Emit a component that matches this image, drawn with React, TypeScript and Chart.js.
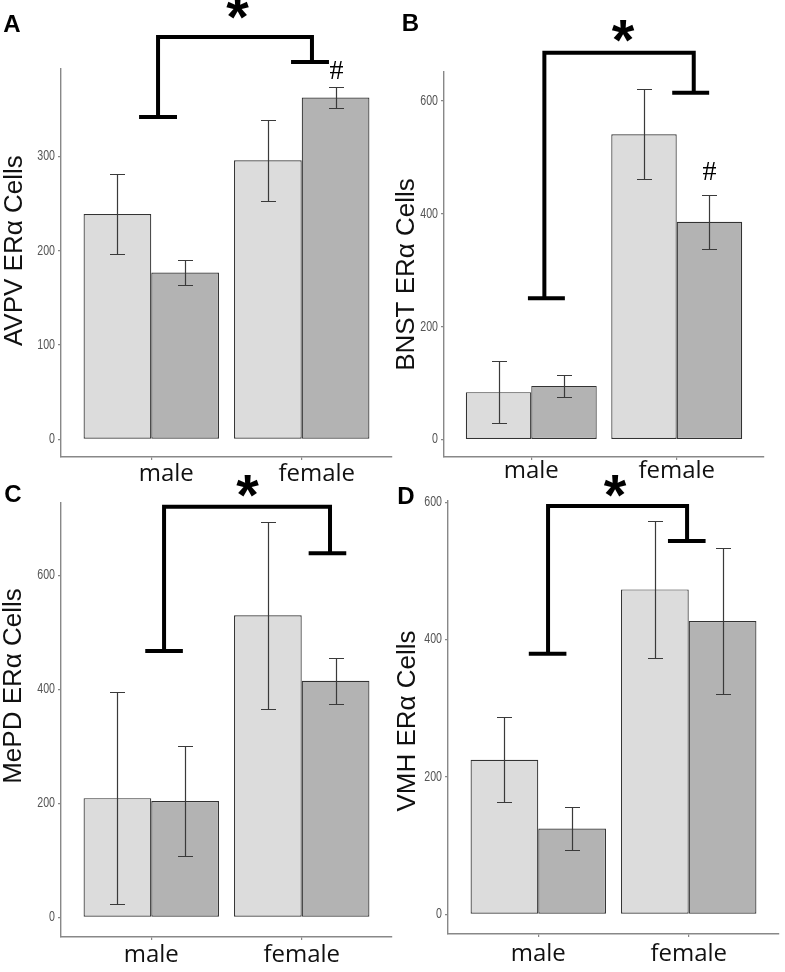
import React, { useEffect, useRef } from 'react';
import { Chart, registerables } from 'chart.js';

Chart.register(...registerables);

const W = 785;
const H = 972;
const YW = 10; // fixed y-axis box width
const XH = 30; // fixed x-axis box height

const categories = ['male', 'female'];

// Panel A – AVPV
const avpvLight = [239, 296];
const avpvLightSE = [42, 43];
const avpvDark = [177, 362.5];
const avpvDarkSE = [13, 11.5];
const avpvTicks = [0, 100, 200, 300];

// Panel B – BNST
const bnstLight = [84, 541];
const bnstLightSE = [55.5, 79.5];
const bnstDark = [95, 386];
const bnstDarkSE = [19.5, 48];
const bnstTicks = [0, 200, 400, 600];

// Panel C – MePD
const mepdLight = [209, 530];
const mepdLightSE = [185.6, 163.7];
const mepdDark = [204, 415];
const mepdDarkSE = [96, 40];
const mepdTicks = [0, 200, 400, 600];

// Panel D – VMH
const vmhLight = [225, 473];
const vmhLightSE = [62, 100];
const vmhDark = [125, 427];
const vmhDarkSE = [31.5, 106];
const vmhTicks = [0, 200, 400, 600];

type Bracket = { lx: number; lcx: number; ly: number; top: number; rx: number; rcx: number; ry: number; half: number };
type Panel = {
  letter: string;
  title: string;
  light: number[];
  lightSE: number[];
  dark: number[];
  darkSE: number[];
  ticks: number[];
  yMin: number;
  yMax: number;
  area: { left: number; top: number; right: number; bottom: number };
  letterPos: [number, number];
  titlePos: [number, number];
  labelOffset: number;
  labelPad: number;
  bracket: Bracket;
  star: [number, number];
  hash?: [number, number];
};

const panels: Panel[] = [
  {
    letter: 'A', title: 'AVPV ERα Cells',
    light: avpvLight, lightSE: avpvLightSE, dark: avpvDark, darkSE: avpvDarkSE, ticks: avpvTicks,
    yMin: -18.7, yMax: 392.7,
    area: { left: 61, top: 69, right: 392, bottom: 457 },
    letterPos: [12, 23.5], titlePos: [13, 250.7],
    labelOffset: 15, labelPad: 0,
    bracket: { lx: 1.045, lcx: 1.045, ly: 341.8, top: 426.6, rx: 2.068, rcx: 2.055, ry: 400.1, half: 0.126 },
    star: [1.573, 455.3], hash: [2.231, 392.7],
  },
  {
    letter: 'B', title: 'BNST ERα Cells',
    light: bnstLight, lightSE: bnstLightSE, dark: bnstDark, darkSE: bnstDarkSE, ticks: bnstTicks,
    yMin: -31, yMax: 651.5,
    area: { left: 444, top: 72, right: 764, bottom: 457 },
    letterPos: [410.5, 22], titlePos: [405, 274.5],
    labelOffset: 0, labelPad: -3,
    bracket: { lx: 1.09, lcx: 1.104, ly: 250.3, top: 685.7, rx: 2.117, rcx: 2.096, ry: 614.8, half: 0.127 },
    star: [1.631, 720.6], hash: [2.225, 477.8],
  },
  {
    letter: 'C', title: 'MePD ERα Cells',
    light: mepdLight, lightSE: mepdLightSE, dark: mepdDark, darkSE: mepdDarkSE, ticks: mepdTicks,
    yMin: -34.7, yMax: 727,
    area: { left: 61, top: 503, right: 392, bottom: 937 },
    letterPos: [13, 493], titlePos: [12, 686],
    labelOffset: 0, labelPad: 1,
    bracket: { lx: 1.085, lcx: 1.085, ly: 467.3, top: 720.5, rx: 2.188, rcx: 2.171, ry: 638.7, half: 0.125 },
    star: [1.64, 752.4],
  },
  {
    letter: 'D', title: 'VMH ERα Cells',
    light: vmhLight, lightSE: vmhLightSE, dark: vmhDark, darkSE: vmhDarkSE, ticks: vmhTicks,
    yMin: -28.7, yMax: 601.7,
    area: { left: 448, top: 501, right: 779, bottom: 934 },
    letterPos: [406, 495], titlePos: [406, 721],
    labelOffset: 0, labelPad: 3,
    bracket: { lx: 1.065, lcx: 1.062, ly: 379.4, top: 594.4, rx: 1.989, rcx: 1.987, ry: 543.5, half: 0.125 },
    star: [1.51, 619.9],
  },
];

function makePlugin(p: Panel) {
  return {
    id: 'annot' + p.letter,
    afterDatasetsDraw(chart: any) {
      const ctx: CanvasRenderingContext2D = chart.ctx;
      const ys = chart.scales.y;
      const means = [p.light, p.dark];
      const ses = [p.lightSE, p.darkSE];
      ctx.save();
      ctx.strokeStyle = '#3a3a3a';
      ctx.lineWidth = 1.2;
      for (let d = 0; d < 2; d++) {
        const meta = chart.getDatasetMeta(d);
        meta.data.forEach((el: any, i: number) => {
          const x = Math.round(el.x) + 0.5;
          const t = Math.round(ys.getPixelForValue(means[d][i] + ses[d][i])) + 0.5;
          const b = Math.round(ys.getPixelForValue(means[d][i] - ses[d][i])) + 0.5;
          ctx.beginPath();
          ctx.moveTo(x, t);
          ctx.lineTo(x, b);
          ctx.moveTo(x - 7.5, t);
          ctx.lineTo(x + 7.5, t);
          ctx.moveTo(x - 7.5, b);
          ctx.lineTo(x + 7.5, b);
          ctx.stroke();
        });
      }
      ctx.restore();
    },
    afterDraw(chart: any) {
      const ctx: CanvasRenderingContext2D = chart.ctx;
      const xs = chart.scales.x;
      const ys = chart.scales.y;
      const X = (u: number) => xs.getPixelForValue(u);
      const Y = (v: number) => ys.getPixelForValue(v);
      ctx.save();

      // y tick labels (condensed grey)
      ctx.fillStyle = '#555';
      ctx.font = '14px "Liberation Sans", Arial, sans-serif';
      ctx.textAlign = 'right';
      ctx.textBaseline = 'middle';
      for (const t of ys.ticks) {
        ctx.save();
        ctx.translate(chart.chartArea.left - 6, ys.getPixelForValue(t.value));
        ctx.scale(0.76, 1);
        ctx.fillText(String(t.value), 0, 0);
        ctx.restore();
      }

      // y title
      ctx.save();
      ctx.fillStyle = '#111';
      ctx.font = '26px "Liberation Sans", Arial, sans-serif';
      ctx.textAlign = 'center';
      ctx.textBaseline = 'alphabetic';
      ctx.translate(p.titlePos[0], p.titlePos[1]);
      ctx.rotate(-Math.PI / 2);
      ctx.fillText(p.title, 0, 0.358 * 26);
      ctx.restore();

      // significance bracket
      const b = p.bracket;
      ctx.strokeStyle = '#000';
      ctx.lineWidth = 4;
      ctx.lineJoin = 'miter';
      ctx.lineCap = 'butt';
      ctx.beginPath();
      ctx.moveTo(X(b.lx), Y(b.ly));
      ctx.lineTo(X(b.lx), Y(b.top));
      ctx.lineTo(X(b.rx), Y(b.top));
      ctx.lineTo(X(b.rx), Y(b.ry));
      ctx.stroke();
      ctx.beginPath();
      ctx.moveTo(X(b.lcx - b.half), Y(b.ly));
      ctx.lineTo(X(b.lcx + b.half), Y(b.ly));
      ctx.moveTo(X(b.rcx - b.half), Y(b.ry));
      ctx.lineTo(X(b.rcx + b.half), Y(b.ry));
      ctx.stroke();

      // asterisk
      ctx.fillStyle = '#000';
      ctx.font = 'bold 58px "Liberation Sans", Arial, sans-serif';
      ctx.textAlign = 'center';
      ctx.textBaseline = 'alphabetic';
      ctx.fillText('*', X(p.star[0]), Y(p.star[1]) + 0.46 * 58);

      // hash
      if (p.hash) {
        ctx.font = '28px "Liberation Serif", serif';
        ctx.fillText('#', X(p.hash[0]), Y(p.hash[1]) + 0.34 * 28);
      }

      // panel letter
      ctx.font = 'bold 24px "Liberation Sans", Arial, sans-serif';
      ctx.fillText(p.letter, p.letterPos[0], p.letterPos[1] + 8.6);

      ctx.restore();
    },
  };
}

function makeConfig(p: Panel): any {
  const axisGrid = { display: true, offset: false, drawOnChartArea: false, drawTicks: true, tickLength: 3, color: '#888', lineWidth: 1.2 };
  const axisBorder = { display: true, color: '#888', width: 1.4 };
  const barStyle = {
    borderColor: '#333',
    borderWidth: 1.2,
    borderSkipped: false,
    categoryPercentage: 0.9,
    barPercentage: 1,
  };
  return {
    type: 'bar',
    data: {
      datasets: [
        { data: p.light.map((v, i) => ({ x: i + 1, y: v })), backgroundColor: '#dcdcdc', ...barStyle },
        { data: p.dark.map((v, i) => ({ x: i + 1, y: v })), backgroundColor: '#b3b3b3', ...barStyle },
      ],
    },
    options: {
      responsive: false,
      animation: false,
      devicePixelRatio: 1,
      events: [],
      layout: {
        padding: {
          left: p.area.left - YW,
          top: p.area.top,
          right: W - p.area.right,
          bottom: H - p.area.bottom - XH,
        },
      },
      plugins: { legend: { display: false }, tooltip: { enabled: false }, title: { display: false } },
      scales: {
        x: {
          type: 'linear',
          offset: false,
          min: 0.4,
          max: 2.6,
          bounds: 'data',
          afterBuildTicks: (s: any) => {
            s.ticks = categories.map((_, i) => ({ value: i + 1 }));
          },
          afterFit: (s: any) => {
            s.height = XH;
          },
          grid: axisGrid,
          border: axisBorder,
          ticks: {
            autoSkip: false,
            maxRotation: 0,
            minRotation: 0,
            labelOffset: p.labelOffset,
            padding: p.labelPad,
            color: '#111',
            font: { family: '"Open Sans", sans-serif', size: 24 },
            callback: (_v: any, i: number) => categories[i],
          },
        },
        y: {
          type: 'linear',
          offset: false,
          min: p.yMin,
          max: p.yMax,
          bounds: 'data',
          afterBuildTicks: (s: any) => {
            s.ticks = p.ticks.map((v) => ({ value: v }));
          },
          afterFit: (s: any) => {
            s.width = YW;
          },
          grid: axisGrid,
          border: axisBorder,
          ticks: { display: false },
        },
      },
    },
    plugins: [makePlugin(p)],
  };
}

function PanelChart({ p }: { p: Panel }) {
  const ref = useRef<HTMLCanvasElement>(null);
  useEffect(() => {
    const chart = new Chart(ref.current as HTMLCanvasElement, makeConfig(p));
    return () => chart.destroy();
  }, [p]);
  return (
    <canvas
      ref={ref}
      width={W}
      height={H}
      style={{ position: 'absolute', left: 0, top: 0, width: W, height: H }}
    />
  );
}

export default function App() {
  return (
    <div style={{ position: 'absolute', left: 0, top: 0, width: W, height: H, background: '#fff', overflow: 'hidden' }}>
      {panels.map((p) => (
        <PanelChart key={p.letter} p={p} />
      ))}
    </div>
  );
}
